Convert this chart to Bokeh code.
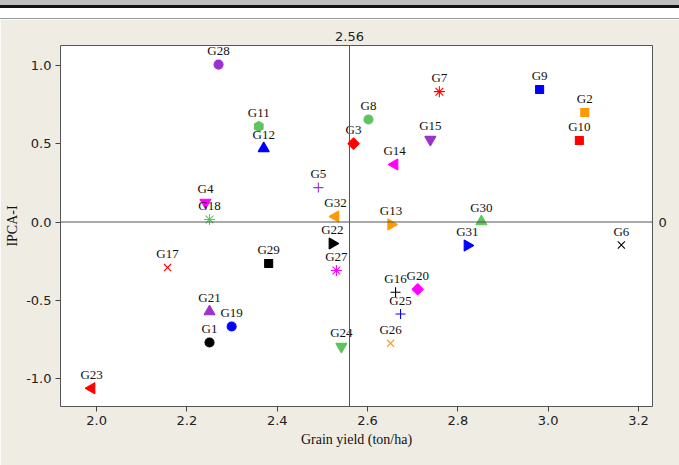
import math

from bokeh.plotting import figure
from bokeh.models import (ColumnDataSource, Range1d, Span, LinearAxis,
                          FixedTicker, Div)
from bokeh.layouts import column
from bokeh.core.properties import value
from bokeh.embed import file_html
from bokeh.resources import INLINE

# Genotype means and first interaction principal component scores
genotypes = ["G1", "G2", "G3", "G4", "G5", "G6", "G7", "G8", "G9", "G10",
             "G11", "G12", "G13", "G14", "G15", "G16", "G17", "G18", "G19", "G20",
             "G21", "G22", "G23", "G24", "G25", "G26", "G27", "G28", "G29", "G30",
             "G31", "G32"]
grain_yield = [2.250, 3.081, 2.569, 2.241, 2.491, 3.162, 2.759, 2.602, 2.981, 3.069,
               2.359, 2.370, 2.652, 2.660, 2.739, 2.662, 2.157, 2.250, 2.299, 2.711,
               2.250, 2.522, 1.989, 2.542, 2.673, 2.651, 2.531, 2.270, 2.381, 2.852,
               2.821, 2.529]
ipca1 = [-0.770, 0.700, 0.501, 0.125, 0.220, -0.147, 0.833, 0.655, 0.847, 0.521,
         0.610, 0.470, -0.016, 0.367, 0.527, -0.449, -0.291, 0.016, -0.668, -0.430,
         -0.572, -0.137, -1.063, -0.796, -0.588, -0.775, -0.310, 1.006, -0.265, 0.003,
         -0.150, 0.035]
grand_mean = 2.56
x_ticks = [2.0, 2.2, 2.4, 2.6, 2.8, 3.0, 3.2]
y_ticks = [-1.0, -0.5, 0.0, 0.5, 1.0]

# Symbol style per genotype: (marker, colour, rotation)
BLACK, RED, BLUE, GREEN = "#000000", "#ff0000", "#0000ff", "#5fc35f"
ORANGE, MAGENTA, PURPLE = "#ff9900", "#ff00ff", "#9933cc"
Q = math.pi / 4
L, R = math.pi / 2, -math.pi / 2
symbol_styles = {
    "G1": ("circle", BLACK, 0), "G2": ("square", ORANGE, 0),
    "G3": ("diamond", RED, Q), "G4": ("inverted_triangle", MAGENTA, 0),
    "G5": ("cross", PURPLE, 0), "G6": ("x", BLACK, 0),
    "G7": ("asterisk", RED, 0), "G8": ("circle", GREEN, 0),
    "G9": ("square", BLUE, 0), "G10": ("square", RED, 0),
    "G11": ("hex", GREEN, L), "G12": ("triangle", BLUE, 0),
    "G13": ("triangle", ORANGE, R), "G14": ("triangle", MAGENTA, L),
    "G15": ("inverted_triangle", PURPLE, 0), "G16": ("cross", BLACK, 0),
    "G17": ("x", RED, 0), "G18": ("asterisk", GREEN, 0),
    "G19": ("circle", BLUE, 0), "G20": ("diamond", MAGENTA, Q),
    "G21": ("triangle", PURPLE, 0), "G22": ("triangle", BLACK, R),
    "G23": ("triangle", RED, L), "G24": ("inverted_triangle", GREEN, 0),
    "G25": ("cross", BLUE, 0), "G26": ("x", ORANGE, 0),
    "G27": ("asterisk", MAGENTA, 0), "G28": ("circle", PURPLE, 0),
    "G29": ("square", BLACK, 0), "G30": ("triangle", GREEN, 0),
    "G31": ("triangle", BLUE, R), "G32": ("triangle", ORANGE, L),
}
marker_sizes = {"circle": 9, "square": 8, "diamond": 8, "triangle": 11,
                "inverted_triangle": 11, "cross": 10, "x": 10, "asterisk": 11,
                "hex": 10}

# Rotated squares stand in for diamonds
markers = [symbol_styles[g][0] for g in genotypes]
sizes = [marker_sizes[m] for m in markers]
markers = ["square" if m == "diamond" else m for m in markers]
colors = [symbol_styles[g][1] for g in genotypes]
angles = [symbol_styles[g][2] for g in genotypes]

src = ColumnDataSource(dict(x=grain_yield, y=ipca1, name=genotypes,
                            marker=markers, color=colors, angle=angles,
                            size=sizes))

BG = "#efece4"
TICK_FONT = "DejaVu Sans"
SERIF = "Liberation Serif"

p = figure(width=679, height=446, output_backend="svg", toolbar_location=None,
           x_range=Range1d(1.920, 3.231), y_range=Range1d(-1.179, 1.128),
           min_border_left=60, min_border_right=27, min_border_top=26,
           min_border_bottom=59)
p.background_fill_color = "white"
p.border_fill_color = BG
p.outline_line_color = "#555555"
p.outline_line_width = 1
p.grid.visible = False

p.add_layout(Span(location=grand_mean, dimension="height",
                  line_color="#555555", line_width=1))
p.add_layout(Span(location=0, dimension="width",
                  line_color="#555555", line_width=1))

p.scatter(x="x", y="y", marker="marker", size="size", angle="angle",
          fill_color="color", line_color="color", line_width=1.1, source=src)
p.text(x="x", y="y", text="name", source=src, y_offset=-14,
       text_align="center", text_baseline="middle",
       text_font=value(SERIF), text_font_size="13px", text_color="#111111")

for ax in (p.xaxis[0], p.yaxis[0]):
    ax.axis_line_color = None
    ax.major_tick_line_color = "#444444"
    ax.major_tick_in = 0
    ax.major_tick_out = 5
    ax.minor_tick_line_color = None
    ax.major_label_text_font = TICK_FONT
    ax.major_label_text_font_size = "13px"
    ax.major_label_text_color = "#222222"
    ax.axis_label_text_font = SERIF
    ax.axis_label_text_font_size = "14px"
    ax.axis_label_text_font_style = "normal"
    ax.axis_label_text_color = "#111111"

p.xaxis[0].ticker = FixedTicker(ticks=x_ticks)
p.xaxis[0].major_label_overrides = {t: f"{t:.1f}" for t in x_ticks}
p.xaxis[0].major_label_standoff = 4
p.xaxis[0].axis_label = "Grain yield (ton/ha)"
p.xaxis[0].axis_label_standoff = 4

p.yaxis[0].ticker = FixedTicker(ticks=y_ticks)
p.yaxis[0].major_label_overrides = {t: f"{t:.1f}" for t in y_ticks}
p.yaxis[0].major_label_standoff = 4
p.yaxis[0].axis_label = "IPCA-I"
p.yaxis[0].axis_label_standoff = 3

# Reference-line values printed outside the frame
top_axis = LinearAxis(ticker=FixedTicker(ticks=[grand_mean]),
                      axis_line_color=None, major_tick_line_color=None,
                      minor_tick_line_color=None, major_tick_out=0,
                      major_label_standoff=5,
                      major_label_overrides={grand_mean: "2.56"},
                      major_label_text_font=TICK_FONT,
                      major_label_text_font_size="13px",
                      major_label_text_color="#222222")
p.add_layout(top_axis, "above")

right_axis = LinearAxis(ticker=FixedTicker(ticks=[0]),
                        axis_line_color=None, major_tick_line_color=None,
                        minor_tick_line_color=None, major_tick_out=0,
                        major_label_standoff=6,
                        major_label_overrides={0: "0"},
                        major_label_text_font=TICK_FONT,
                        major_label_text_font_size="13px",
                        major_label_text_color="#222222")
p.add_layout(right_axis, "right")

header = Div(text="", width=679, height=19, margin=(0, 0, 0, 0),
             styles={"background": "linear-gradient(to bottom, #bdbdbd 0px, "
                     "#bdbdbd 5px, #111111 5px, #111111 8px, #ffffff 8px, "
                     "#ffffff 18px, #9a9a9a 18px, #9a9a9a 19px)"})

layout = column(header, p, spacing=0)

open("out.html", "w").write(file_html(layout, INLINE))
